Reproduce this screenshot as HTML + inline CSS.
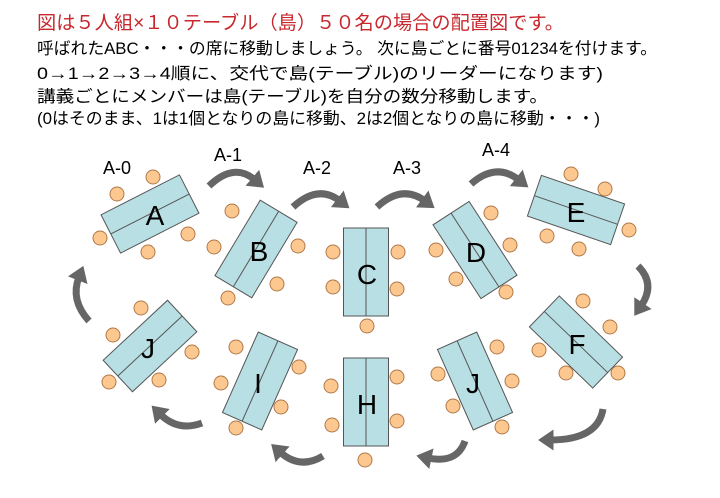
<!DOCTYPE html>
<html><head><meta charset="utf-8"><style>
html,body{margin:0;padding:0;background:#fff;width:720px;height:498px;overflow:hidden}
svg{display:block}
text{font-family:"Liberation Sans","Noto Sans CJK JP",sans-serif}
</style></head><body>
<svg width="720" height="498" viewBox="0 0 720 498" xmlns="http://www.w3.org/2000/svg">
<defs>
<marker id="ah" markerWidth="3" markerHeight="3" refX="0.5" refY="1.5" orient="auto" markerUnits="strokeWidth">
<path d="M0,0 L2.2,1.5 L0,3 z" fill="#666"/>
</marker>
</defs>
<text x="37" y="29" font-size="19" fill="#c8282d" textLength="527" lengthAdjust="spacingAndGlyphs">図は５人組×１０テーブル（島）５０名の場合の配置図です。</text>
<g font-size="16.5" fill="#000">
<text x="37" y="54" textLength="620" lengthAdjust="spacingAndGlyphs">呼ばれたABC・・・の席に移動しましょう。 次に島ごとに番号01234を付けます。</text>
<text x="37" y="79" textLength="566" lengthAdjust="spacingAndGlyphs">0→1→2→3→4順に、交代で島(テーブル)のリーダーになります)</text>
<text x="37" y="102" textLength="511" lengthAdjust="spacingAndGlyphs">講義ごとにメンバーは島(テーブル)を自分の数分移動します。</text>
<text x="37" y="124" textLength="563" lengthAdjust="spacingAndGlyphs">(0はそのまま、1は1個となりの島に移動、2は2個となりの島に移動・・・)</text>
</g>
<g font-size="18" fill="#000">
<text x="103" y="174">A-0</text>
<text x="214" y="161">A-1</text>
<text x="303" y="174">A-2</text>
<text x="393" y="174">A-3</text>
<text x="482" y="156">A-4</text>
</g>
<g fill="none" stroke="#666" stroke-width="7" marker-end="url(#ah)" stroke-linecap="butt">
<path d="M209,186 Q234,162 255,180"/>
<path d="M293,207 Q318,184 340,201"/>
<path d="M377,207 Q402,184 425,201"/>
<path d="M471,184 Q496,162 519,180"/>
<path d="M638,266 Q656,284 641,306"/>
<path d="M603,409 Q598,440 550,440"/>
<path d="M465,441 Q457,464 428,458"/>
<path d="M323,456 Q300,470 280,452"/>
<path d="M202,423 Q178,432 160,414"/>
<path d="M89,321 Q70,300 79,277"/>
</g>
<g fill="#b8dfe3" stroke="#555" stroke-width="1">
<g transform="translate(150,214) rotate(-27)"><rect x="-44" y="-21.5" width="88" height="43"/><line x1="-44" y1="0" x2="44" y2="0"/></g>
<g transform="translate(256,249) rotate(31)"><rect x="-21.5" y="-44" width="43" height="88"/><line x1="0" y1="-44" x2="0" y2="44"/></g>
<g transform="translate(366,272)"><rect x="-22.5" y="-44" width="45" height="88"/><line x1="0" y1="-44" x2="0" y2="44"/></g>
<g transform="translate(475,250) rotate(-33)"><rect x="-21.5" y="-44" width="43" height="88"/><line x1="0" y1="-44" x2="0" y2="44"/></g>
<g transform="translate(576,210) rotate(19)"><rect x="-44" y="-21.5" width="88" height="43"/><line x1="-44" y1="0" x2="44" y2="0"/></g>
<g transform="translate(576,342) rotate(44)"><rect x="-44" y="-21.5" width="88" height="43"/><line x1="-44" y1="0" x2="44" y2="0"/></g>
<g transform="translate(475,381) rotate(-24)"><rect x="-21.5" y="-44" width="43" height="88"/><line x1="0" y1="-44" x2="0" y2="44"/></g>
<g transform="translate(366,402)"><rect x="-22.5" y="-44" width="45" height="88"/><line x1="0" y1="-44" x2="0" y2="44"/></g>
<g transform="translate(260,381) rotate(24)"><rect x="-21.5" y="-44" width="43" height="88"/><line x1="0" y1="-44" x2="0" y2="44"/></g>
<g transform="translate(150,346) rotate(-43)"><rect x="-44" y="-21.5" width="88" height="43"/><line x1="-44" y1="0" x2="44" y2="0"/></g>
</g>
<g font-size="28" fill="#000" text-anchor="middle">
<text x="155" y="225">A</text>
<text x="259" y="261">B</text>
<text x="367" y="284">C</text>
<text x="476" y="262">D</text>
<text x="576" y="222">E</text>
<text x="577" y="354">F</text>
<text x="473" y="393">J</text>
<text x="367" y="414">H</text>
<text x="258" y="393">I</text>
<text x="148" y="358">J</text>
</g>
<g fill="#fcc890" stroke="#b07848" stroke-width="1">
<circle cx="153" cy="177" r="7"/><circle cx="117" cy="194" r="7"/><circle cx="100" cy="238" r="7"/><circle cx="148" cy="252" r="7"/><circle cx="188" cy="234" r="7"/>
<circle cx="232" cy="211" r="7"/><circle cx="214" cy="247" r="7"/><circle cx="298" cy="246" r="7"/><circle cx="277" cy="284" r="7"/><circle cx="228" cy="298" r="7"/>
<circle cx="333" cy="252" r="7"/><circle cx="333" cy="287" r="7"/><circle cx="398" cy="252" r="7"/><circle cx="397" cy="289" r="7"/><circle cx="367" cy="326" r="7"/>
<circle cx="331" cy="386" r="7"/><circle cx="332" cy="425" r="7"/><circle cx="365" cy="460" r="7"/><circle cx="397" cy="377" r="7"/><circle cx="397" cy="421" r="7"/>
<circle cx="491" cy="213" r="7"/><circle cx="436" cy="250" r="7"/><circle cx="510" cy="245" r="7"/><circle cx="456" cy="279" r="7"/><circle cx="506" cy="292" r="7"/>
<circle cx="571" cy="174" r="7"/><circle cx="605" cy="189" r="7"/><circle cx="629" cy="230" r="7"/><circle cx="547" cy="236" r="7"/><circle cx="579" cy="249" r="7"/>
<circle cx="583" cy="301" r="7"/><circle cx="610" cy="327" r="7"/><circle cx="539" cy="350" r="7"/><circle cx="566" cy="373" r="7"/><circle cx="618" cy="373" r="7"/>
<circle cx="497" cy="347" r="7"/><circle cx="438" cy="374" r="7"/><circle cx="512" cy="381" r="7"/><circle cx="453" cy="406" r="7"/><circle cx="502" cy="427" r="7"/>
<circle cx="236" cy="347" r="7"/><circle cx="221" cy="383" r="7"/><circle cx="299" cy="367" r="7"/><circle cx="281" cy="407" r="7"/><circle cx="236" cy="428" r="7"/>
<circle cx="141" cy="308" r="7"/><circle cx="113" cy="335" r="7"/><circle cx="192" cy="352" r="7"/><circle cx="109" cy="382" r="7"/><circle cx="159" cy="380" r="7"/>
</g>
</svg>
</body></html>
